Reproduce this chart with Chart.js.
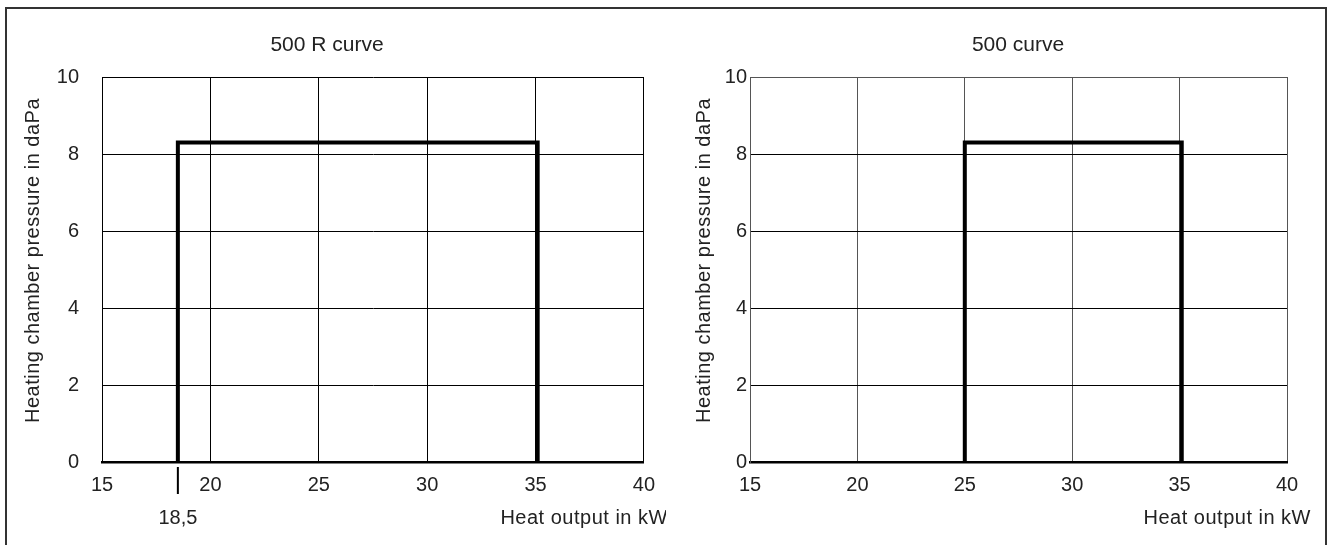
<!DOCTYPE html>
<html>
<head>
<meta charset="utf-8">
<title>Heating chamber pressure</title>
<style>
  body { margin: 0; background: #fff; }
  #frame { position: absolute; left: 5px; top: 7px; width: 1322px; height: 560px;
           border: 2px solid #333; border-bottom: none; box-sizing: border-box; }
  .box { position: absolute; top: 0; width: 666px; height: 545px; }
</style>
</head>
<body>
<div id="frame"></div>
<div class="box" style="left:0"><canvas id="chartR" width="666" height="545"></canvas></div>
<div class="box" style="left:666px"><canvas id="chart500" width="666" height="545"></canvas></div>

<script src="https://cdn.jsdelivr.net/npm/chart.js"></script>
<script>
// axis ticks (kW and daPa)
var xTicks = [15, 20, 25, 30, 35, 40];
var yTicks = [0, 2, 4, 6, 8, 10];

// 500 R curve
var curveRx = [18.5, 18.5, 35.1, 35.1];
var curveRy = [0, 8.3, 8.3, 0];
var markRValues = [18.5];
var markRLabels = ['18,5'];

// 500 curve
var curveX = [25, 25, 35.1, 35.1];
var curveY = [0, 8.3, 8.3, 0];

var FONT = '"Liberation Sans", Arial, sans-serif';
var INK = '#222';

// titles, axis titles and the 18,5 marker are drawn here
var textPlugin = {
  id: 'texts',
  afterDraw: function(chart, args, opts) {
    var ctx = chart.ctx, area = chart.chartArea, xs = chart.scales.x;
    ctx.save();
    ctx.fillStyle = INK;
    ctx.textBaseline = 'middle';
    ctx.textAlign = 'center';
    ctx.font = '21px ' + FONT;
    ctx.fillText(opts.title, opts.titleX, 45);

    ctx.font = '20px ' + FONT;
    if ('letterSpacing' in ctx) ctx.letterSpacing = '0.5px';
    ctx.textAlign = 'right';
    ctx.fillText(opts.xTitle, area.right + 24, 518);

    ctx.save();
    ctx.translate(opts.yTitleX, (area.top + area.bottom) / 2 - 9);
    ctx.rotate(-Math.PI / 2);
    ctx.textAlign = 'center';
    ctx.fillText(opts.yTitle, 0, 0);
    ctx.restore();

    if ('letterSpacing' in ctx) ctx.letterSpacing = '0px';
    var vals = opts.marks || [];
    vals.forEach(function(v, i) {
      var px = xs.getPixelForValue(v);
      ctx.fillStyle = '#000';
      ctx.fillRect(px - 1, area.bottom + 5, 2, 27);
      ctx.fillStyle = INK;
      ctx.textAlign = 'center';
      ctx.fillText(opts.markLabels[i], px, 518);
    });
    ctx.restore();
  }
};

function makeChart(id, xs, ys, cfg) {
  var pts = xs.map(function(x, i) { return { x: x, y: ys[i] }; });
  return new Chart(document.getElementById(id), {
    type: 'line',
    data: {
      datasets: [{
        data: pts,
        borderColor: '#000',
        borderWidth: 4,
        pointRadius: 0,
        tension: 0,
        fill: false,
        borderJoinStyle: 'miter'
      }]
    },
    options: {
      responsive: false,
      animation: false,
      layout: { padding: { left: 0, right: cfg.padRight, top: 77, bottom: 0 } },
      plugins: {
        legend: { display: false },
        tooltip: { enabled: false },
        texts: { title: cfg.title, titleX: cfg.titleX, xTitle: 'Heat output in kW',
                 yTitle: 'Heating chamber pressure in daPa', yTitleX: cfg.yTitleX,
                 marks: cfg.marks, markLabels: cfg.markLabels }
      },
      scales: {
        x: {
          type: 'linear', min: 15, max: 40,
          afterBuildTicks: function(s) { s.ticks = xTicks.map(function(v) { return { value: v }; }); },
          afterFit: function(s) { s.height = 83; },
          grid: { color: cfg.gridColor, lineWidth: 1, drawTicks: false },
          border: { color: '#000', width: 2.5 },
          ticks: { padding: 11, color: INK, font: { family: FONT, size: 20 }, maxRotation: 0 }
        },
        y: {
          min: 0, max: 10,
          afterBuildTicks: function(s) { s.ticks = yTicks.map(function(v) { return { value: v }; }); },
          afterFit: function(s) { s.width = cfg.yWidth; },
          grid: {
            color: function(c) { return c.tick && c.tick.value === 10 ? cfg.gridColor : '#000'; },
            lineWidth: 1, drawTicks: false
          },
          border: { color: cfg.gridColor, width: 1 },
          ticks: { padding: cfg.yPad, color: INK, font: { family: FONT, size: 20 } }
        }
      }
    },
    plugins: [textPlugin]
  });
}

makeChart('chartR', curveRx, curveRy, {
  title: '500 R curve', titleX: 327, padRight: 22, yWidth: 102, yPad: 23, yTitleX: 33,
  gridColor: '#000', marks: markRValues, markLabels: markRLabels
});
makeChart('chart500', curveX, curveY, {
  title: '500 curve', titleX: 352, padRight: 45, yWidth: 84, yPad: 3, yTitleX: 38,
  gridColor: '#555', marks: [], markLabels: []
});
</script>
</body>
</html>
